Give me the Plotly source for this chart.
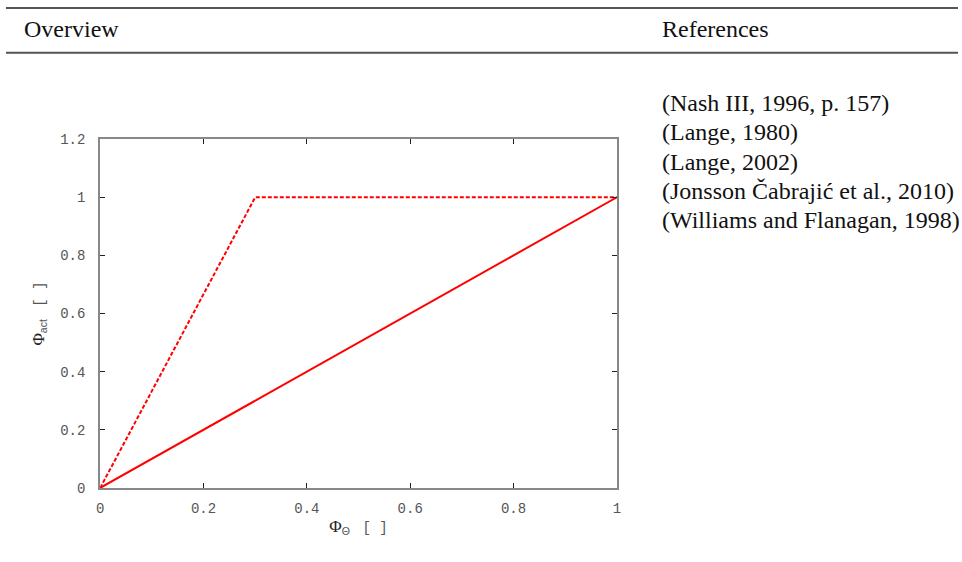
import plotly.graph_objects as go

# data
x_solid = [0, 1]
y_solid = [0, 1]
x_dashed = [0, 0.3, 1]
y_dashed = [0, 1, 1]
x_ticks = [0, 0.2, 0.4, 0.6, 0.8, 1]
x_tick_labels = ["0", "0.2", "0.4", "0.6", "0.8", "1"]
y_ticks = [0, 0.2, 0.4, 0.6, 0.8, 1, 1.2]
y_tick_labels = ["0", "0.2", "0.4", "0.6", "0.8", "1", "1.2"]
header_cols = ["Overview", "References"]
references = [
    "(Nash III, 1996, p. 157)",
    "(Lange, 1980)",
    "(Lange, 2002)",
    "(Jonsson Čabrajić et al., 2010)",
    "(Williams and Flanagan, 1998)",
]

W, H = 962, 562
# pixel helpers (layout pixel -> paper fraction)
px = lambda x: x / W
py = lambda y: 1 - y / H

fig = go.Figure()
fig.add_trace(go.Scatter(x=x_dashed, y=y_dashed, mode="lines",
                         line=dict(color="#ff0000", width=2, dash="4px,2px"),
                         showlegend=False, hoverinfo="skip"))
fig.add_trace(go.Scatter(x=x_solid, y=y_solid, mode="lines",
                         line=dict(color="#ff0000", width=2),
                         showlegend=False, hoverinfo="skip"))

mono = "Liberation Mono, Courier New, monospace"
serif_f = "Liberation Serif, Times New Roman, serif"
sans = "Liberation Sans, Arial, sans-serif"
tickfont = dict(family=mono, size=14, color="#555555")
phi_style = f"font-family:{serif_f};font-size:17px;color:#222222"
br_style = f"font-family:{mono};font-size:14px;color:#555555"

fig.update_layout(
    width=W, height=H,
    margin=dict(l=0, r=0, t=0, b=0),
    paper_bgcolor="white", plot_bgcolor="white",
    xaxis=dict(domain=[px(97), px(618)], range=[0, 1],
               tickvals=x_ticks, ticktext=x_tick_labels,
               ticks="inside", ticklen=5, tickcolor="#222222", tickwidth=1,
               showline=True, linecolor="#888888", linewidth=2, mirror="ticks",
               showgrid=False, zeroline=False, tickfont=tickfont,
               ticklabelstandoff=6,
               title=dict(text=f"<span style='{phi_style}'>Φ</span><sub>Θ</sub>   <span style='{br_style}'>[ ]</span>",
                          font=dict(family=sans, size=15, color="#555555"), standoff=6)),
    yaxis=dict(domain=[py(495), py(136)], range=[0, 1.2],
               tickvals=y_ticks, ticktext=y_tick_labels,
               ticks="inside", ticklen=5, tickcolor="#222222", tickwidth=1,
               showline=True, linecolor="#888888", linewidth=2, mirror="ticks",
               showgrid=False, zeroline=False, tickfont=tickfont,
               ticklabelstandoff=10,
               title=dict(text=f"<span style='{phi_style}'>Φ</span><sub>act</sub>   <span style='{br_style}'>[ ]</span>",
                          font=dict(family=sans, size=15, color="#555555"), standoff=12)),
)

# table rules
for y in [1, 47]:
    fig.add_shape(type="line", xref="paper", yref="paper",
                  x0=px(2), x1=1, y0=py(y), y1=py(y),
                  line=dict(color="#555555", width=2))

serif = dict(family=serif_f, size=24, color="#111111")
fig.add_annotation(x=px(18), y=py(22.5), xref="paper", yref="paper", text=header_cols[0],
                   showarrow=False, xanchor="left", yanchor="middle", font=serif)
fig.add_annotation(x=px(662), y=py(22.5), xref="paper", yref="paper", text=header_cols[1],
                   showarrow=False, xanchor="left", yanchor="middle", font=serif)
for i, r in enumerate(references):
    fig.add_annotation(x=px(662), y=py(99 + i * 30.1), xref="paper", yref="paper", text=r,
                       showarrow=False, xanchor="left", yanchor="middle", font=serif)

fig.write_html("out.html")
